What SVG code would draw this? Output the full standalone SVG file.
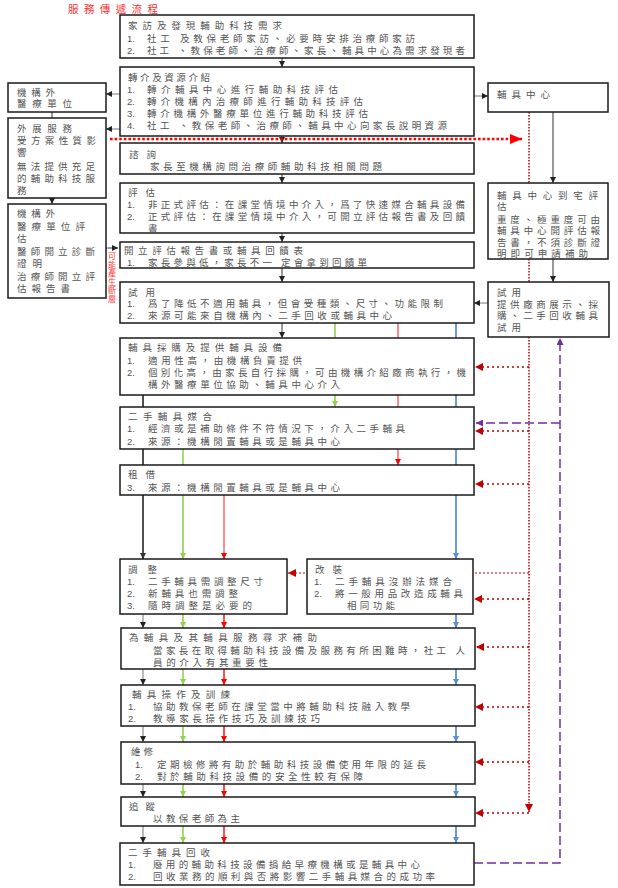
<svg xmlns="http://www.w3.org/2000/svg" width="618" height="888" viewBox="0 0 618 888">
<style>
.bx{fill:#fff;stroke:#1a1a1a;stroke-width:1.5}
text{font-family:"Liberation Sans","Noto Sans CJK TC","Noto Sans CJK SC",sans-serif;font-size:9.5px;fill:#555}
.ttl{fill:#ff3030;font-size:10.5px}
.vt{fill:#ff3a3a;font-size:8px}
.k{stroke:#333;stroke-width:1;fill:none}
.gy{stroke:#777;stroke-width:1;fill:none}
.g{stroke:#92D050;stroke-width:1.6;fill:none}
.r{stroke:#FF6F6F;stroke-width:1.6;fill:none}
.rr{stroke:#FF0000;stroke-width:1.4;fill:none}
.b{stroke:#5B8FD0;stroke-width:1.8;fill:none}
.bk{stroke:#222;stroke-width:1.6;fill:none}
.dr{stroke:#C00000;stroke-width:1.5;stroke-dasharray:1.5 1.5;fill:none}
.drh{stroke:#C00000;stroke-width:1.5;stroke-dasharray:2 3;fill:none}
.drt{stroke:#C00000;stroke-width:1;stroke-dasharray:2 2;fill:none}
.bigr{stroke:#FF0000;stroke-width:2.6;stroke-dasharray:2.6 2;fill:none}
.pu{stroke:#7030A0;stroke-width:1.5;stroke-dasharray:9 4;fill:none}
</style>
<defs>
<marker id="ak" markerUnits="userSpaceOnUse" markerWidth="6" markerHeight="6" refX="6" refY="3" orient="auto"><path d="M0,0L6,3L0,6z" fill="#222"/></marker>
<marker id="agy" markerUnits="userSpaceOnUse" markerWidth="6" markerHeight="6" refX="6" refY="3" orient="auto"><path d="M0,0L6,3L0,6z" fill="#333"/></marker>
<marker id="ag" markerUnits="userSpaceOnUse" markerWidth="6" markerHeight="6" refX="6" refY="3" orient="auto"><path d="M0,0L6,3L0,6z" fill="#92D050"/></marker>
<marker id="ar" markerUnits="userSpaceOnUse" markerWidth="6" markerHeight="6" refX="6" refY="3" orient="auto"><path d="M0,0L6,3L0,6z" fill="#FF0000"/></marker>
<marker id="ab" markerUnits="userSpaceOnUse" markerWidth="6" markerHeight="6" refX="6" refY="3" orient="auto"><path d="M0,0L6,3L0,6z" fill="#5B8FD0"/></marker>
<marker id="adr" markerUnits="userSpaceOnUse" markerWidth="8" markerHeight="8" refX="8" refY="4" orient="auto"><path d="M0,0L8,4L0,8z" fill="#C00000"/></marker>
<marker id="abig" markerUnits="userSpaceOnUse" markerWidth="12" markerHeight="10" refX="12" refY="5" orient="auto"><path d="M0,0L12,5L0,10z" fill="#FF0000"/></marker>
<marker id="apu" markerUnits="userSpaceOnUse" markerWidth="7" markerHeight="7" refX="7" refY="3.5" orient="auto"><path d="M0,0L7,3.5L0,7z" fill="#7030A0"/></marker>
</defs>
<rect width="618" height="888" fill="#fff"/>
<text class="ttl" x="68" y="13" textLength="90">服務傳遞流程</text>

<g id="connectors">
<line class="k" x1="282" y1="58" x2="282" y2="67" marker-end="url(#ak)"/>
<line class="k" x1="282" y1="136" x2="282" y2="143" marker-end="url(#ak)"/>
<line class="k" x1="282" y1="174" x2="282" y2="183" marker-end="url(#ak)"/>
<line class="k" x1="282" y1="233" x2="282" y2="242" marker-end="url(#ak)"/>
<line class="k" x1="282" y1="268" x2="282" y2="282" marker-end="url(#ak)"/>
<line class="k" x1="282" y1="323" x2="282" y2="338" marker-end="url(#ak)"/>
<line class="gy" x1="120" y1="94" x2="106" y2="94" marker-end="url(#ak)"/>
<line class="gy" x1="120" y1="129" x2="106" y2="129" marker-end="url(#ak)"/>
<line class="k" x1="52" y1="112" x2="52" y2="204" marker-end="url(#ak)"/>
<line class="k" x1="108" y1="248" x2="118" y2="248" marker-start="url(#ak)" marker-end="url(#ak)"/>
<line class="gy" x1="474" y1="96" x2="488" y2="96" marker-end="url(#ak)"/>
<line class="k" x1="553" y1="112" x2="553" y2="183" marker-end="url(#ak)"/>
<line class="k" x1="553" y1="259" x2="553" y2="282" marker-end="url(#ak)"/>
<line class="gy" x1="488" y1="303" x2="474" y2="303" marker-end="url(#ak)"/>
<line class="bigr" x1="110" y1="139" x2="522" y2="139" marker-end="url(#abig)"/>
<line class="dr" x1="529" y1="112" x2="529" y2="812" marker-end="url(#adr)"/>
<line class="drh" x1="529" y1="367" x2="475" y2="367" marker-end="url(#adr)"/>
<line class="drh" x1="529" y1="431" x2="475" y2="431" marker-end="url(#adr)"/>
<line class="drh" x1="529" y1="484" x2="475" y2="484" marker-end="url(#adr)"/>
<line class="drt" x1="529" y1="573" x2="288" y2="573" marker-end="url(#adr)"/>
<line class="drh" x1="529" y1="599" x2="474" y2="599" marker-end="url(#adr)"/>
<line class="drh" x1="529" y1="647" x2="476" y2="647" marker-end="url(#adr)"/>
<line class="drh" x1="529" y1="707" x2="475" y2="707" marker-end="url(#adr)"/>
<line class="drh" x1="529" y1="762" x2="475" y2="762" marker-end="url(#adr)"/>
<line class="drh" x1="529" y1="813" x2="475" y2="813" marker-end="url(#adr)"/>
<path class="pu" d="M474 863H560V338" marker-end="url(#apu)"/>
<path class="pu" d="M560 423H476" marker-end="url(#apu)"/>
<line class="g" x1="335" y1="323" x2="335" y2="407" marker-end="url(#ag)"/>
<line class="g" x1="183" y1="449" x2="183" y2="559" marker-end="url(#ag)"/>
<line class="r" x1="398" y1="323" x2="398" y2="465" marker-end="url(#ar)"/>
<line class="r" x1="224" y1="495" x2="224" y2="559" marker-end="url(#ar)"/>
<line class="b" x1="456" y1="323" x2="456" y2="559" marker-end="url(#ab)"/>
<line class="bk" x1="143" y1="395" x2="143" y2="559" marker-end="url(#agy)"/>
<g>
<line class="gy" x1="143" y1="614" x2="143" y2="628" marker-end="url(#ak)"/>
<line class="gy" x1="143" y1="669" x2="143" y2="685" marker-end="url(#ak)"/>
<line class="gy" x1="143" y1="726" x2="143" y2="742" marker-end="url(#ak)"/>
<line class="gy" x1="143" y1="784" x2="143" y2="797" marker-end="url(#ak)"/>
<line class="gy" x1="143" y1="826" x2="143" y2="843" marker-end="url(#ak)"/>
<line class="g" x1="183" y1="614" x2="183" y2="628" marker-end="url(#ag)"/>
<line class="g" x1="183" y1="669" x2="183" y2="685" marker-end="url(#ag)"/>
<line class="g" x1="183" y1="726" x2="183" y2="742" marker-end="url(#ag)"/>
<line class="g" x1="183" y1="784" x2="183" y2="797" marker-end="url(#ag)"/>
<line class="g" x1="183" y1="826" x2="183" y2="843" marker-end="url(#ag)"/>
<line class="rr" x1="224" y1="614" x2="224" y2="628" marker-end="url(#ar)"/>
<line class="rr" x1="224" y1="669" x2="224" y2="685" marker-end="url(#ar)"/>
<line class="rr" x1="224" y1="726" x2="224" y2="742" marker-end="url(#ar)"/>
<line class="rr" x1="224" y1="784" x2="224" y2="797" marker-end="url(#ar)"/>
<line class="rr" x1="224" y1="826" x2="224" y2="843" marker-end="url(#ar)"/>
<line class="b" x1="456" y1="614" x2="456" y2="628" marker-end="url(#ab)"/>
<line class="b" x1="456" y1="669" x2="456" y2="685" marker-end="url(#ab)"/>
<line class="b" x1="456" y1="726" x2="456" y2="742" marker-end="url(#ab)"/>
<line class="b" x1="456" y1="784" x2="456" y2="797" marker-end="url(#ab)"/>
<line class="b" x1="456" y1="826" x2="456" y2="843" marker-end="url(#ab)"/>
</g>
</g>

<g id="n1"><rect class="bx" x="120" y="15" width="354" height="43"/>
<text x="128" y="28.5" textLength="154">家訪及發現輔助科技需求</text>
<text x="127" y="41.5">1.</text><text x="147" y="41.5" textLength="268">社工 及教保老師家訪、必要時安排治療師家訪</text>
<text x="127" y="54">2.</text><text x="147" y="54" textLength="318">社工 、教保老師、治療師、家長、輔具中心為需求發現者</text></g>

<g id="n2"><rect class="bx" x="120" y="67" width="354" height="69"/>
<text x="128" y="81" textLength="82">轉介及資源介紹</text>
<text x="127" y="93">1.</text><text x="147" y="93" textLength="191">轉介輔具中心進行輔助科技評估</text>
<text x="127" y="105">2.</text><text x="147" y="105" textLength="216">轉介機構內治療師進行輔助科技評估</text>
<text x="127" y="117">3.</text><text x="147" y="117" textLength="221">轉介機構外醫療單位進行輔助科技評估</text>
<text x="127" y="129">4.</text><text x="147" y="129" textLength="300">社工 、教保老師、治療師、輔具中心向家長說明資源</text></g>

<g id="n3"><rect class="bx" x="120" y="143" width="354" height="31"/>
<text x="129" y="157.5" textLength="27">諮詢</text>
<text x="150" y="169.5" textLength="232">家長至機構詢問治療師輔助科技相關問題</text></g>

<g id="n4"><rect class="bx" x="120" y="183" width="354" height="50"/>
<text x="128" y="195.5" textLength="27">評估</text>
<text x="127" y="207.5">1.</text><text x="148" y="207.5" textLength="317">非正式評估：在課堂情境中介入，爲了快速媒合輔具設備</text>
<text x="127" y="220">2.</text><text x="148" y="220" textLength="317">正式評估：在課堂情境中介入，可開立評估報告書及回饋</text>
<text x="148" y="231.5">書</text></g>

<g id="n5"><rect class="bx" x="120" y="242" width="354" height="26"/>
<text x="124" y="253.5" textLength="179">開立評估報告書或輔具回饋表</text>
<text x="127" y="266">1.</text><text x="148" y="266" textLength="219">家長參與低，家長不一 定會拿到回饋單</text></g>

<g id="n6"><rect class="bx" x="120" y="282" width="354" height="41"/>
<text x="128" y="295.5" textLength="27">試用</text>
<text x="127" y="306.5">1.</text><text x="148" y="306.5" textLength="295">爲了降低不適用輔具，但會受種類、尺寸、功能限制</text>
<text x="127" y="318.5">2.</text><text x="148" y="318.5" textLength="244">來源可能來自機構內、二手回收或輔具中心</text></g>

<g id="n7"><rect class="bx" x="120" y="338" width="354" height="57"/>
<text x="128" y="350.5" textLength="154">輔具採購及提供輔具設備</text>
<text x="127" y="363.5">1.</text><text x="148" y="363.5" textLength="154">適用性高，由機構負責提供</text>
<text x="127" y="375.5">2.</text><text x="148" y="375.5" textLength="318">個別化高，由家長自行採購，可由機構介紹廠商執行，機</text>
<text x="148" y="387.5" textLength="192">構外醫療單位協助、輔具中心介入</text></g>

<g id="n8"><rect class="bx" x="120" y="407" width="354" height="42"/>
<text x="128" y="419.5" textLength="84">二手輔具媒合</text>
<text x="127" y="431.5">1.</text><text x="148" y="431.5" textLength="257">經濟或是補助條件不符情況下，介入二手輔具</text>
<text x="127" y="444.5">2.</text><text x="148" y="444.5" textLength="192">來源：機構閒置輔具或是輔具中心</text></g>

<g id="n9"><rect class="bx" x="120" y="465" width="354" height="30"/>
<text x="128" y="477.5" textLength="27">租借</text>
<text x="127" y="490.5">3.</text><text x="148" y="490.5" textLength="192">來源：機構閒置輔具或是輔具中心</text></g>

<g id="n10"><rect class="bx" x="120" y="559" width="167" height="55"/>
<text x="128" y="572.5" textLength="29">調整</text>
<text x="127" y="584.5">1.</text><text x="148" y="584.5" textLength="115">二手輔具需調整尺寸</text>
<text x="127" y="596.5">2.</text><text x="148" y="596.5" textLength="90">新輔具也需調整</text>
<text x="127" y="608.5">3.</text><text x="148" y="608.5" textLength="104">隨時調整是必要的</text></g>

<g id="n11"><rect class="bx" x="307" y="559" width="166" height="55"/>
<text x="315" y="572.5" textLength="27">改裝</text>
<text x="314" y="584.5">1.</text><text x="335" y="584.5" textLength="117">二手輔具沒辦法媒合</text>
<text x="314" y="596.5">2.</text><text x="335" y="596.5" textLength="128">將一般用品改造成輔具</text>
<text x="347" y="608.5" textLength="48">相同功能</text></g>

<g id="n12"><rect class="bx" x="121" y="628" width="354" height="41"/>
<text x="129" y="640.5" textLength="188">為輔具及其輔具服務尋求補助</text>
<text x="153" y="653.5" textLength="312">當家長在取得輔助科技設備及服務有所困難時，社工 人</text>
<text x="153" y="665.5" textLength="115">員的介入有其重要性</text></g>

<g id="n13"><rect class="bx" x="121" y="685" width="354" height="41"/>
<text x="132" y="697.5" textLength="98">輔具操作及訓練</text>
<text x="128" y="709.5">1.</text><text x="153" y="709.5" textLength="257">協助教保老師在課堂當中將輔助科技融入教學</text>
<text x="128" y="722">2.</text><text x="153" y="722" textLength="167">教導家長操作技巧及訓練技巧</text></g>

<g id="n14"><rect class="bx" x="121" y="742" width="354" height="42"/>
<text x="131" y="755" textLength="22">維修</text>
<text x="135" y="767.5">1.</text><text x="157" y="767.5" textLength="269">定期檢修將有助於輔助科技設備使用年限的延長</text>
<text x="135" y="779.5">2.</text><text x="157" y="779.5" textLength="206">對於輔助科技設備的安全性較有保障</text></g>

<g id="n15"><rect class="bx" x="121" y="797" width="354" height="29"/>
<text x="129" y="809.5" textLength="26">追蹤</text>
<text x="153" y="822" textLength="87">以教保老師為主</text></g>

<g id="n16"><rect class="bx" x="120" y="843" width="354" height="42"/>
<text x="128" y="855.5" textLength="82">二手輔具回收</text>
<text x="128" y="867.5">1.</text><text x="153" y="867.5" textLength="267">廢用的輔助科技設備捐給早療機構或是輔具中心</text>
<text x="128" y="880">2.</text><text x="153" y="880" textLength="282">回收業務的順利與否將影響二手輔具媒合的成功率</text></g>

<g id="l1"><rect class="bx" x="8" y="83" width="98" height="29"/>
<text x="17" y="95.5" textLength="38">機構外</text>
<text x="17" y="107" textLength="55">醫療單位</text></g>

<g id="l2"><rect class="bx" x="8" y="118" width="98" height="80"/>
<text x="17" y="131.5" textLength="55">外展服務</text>
<text x="17" y="143.5" textLength="79">受方案性質影</text>
<text x="17" y="155.5">響</text>
<text x="17" y="169.5" textLength="78">無法提供充足</text>
<text x="17" y="181.5" textLength="78">的輔助科技服</text>
<text x="17" y="193.5">務</text></g>

<g id="l3"><rect class="bx" x="8" y="204" width="98" height="94"/>
<text x="17" y="216.5" textLength="38">機構外</text>
<text x="17" y="229.5" textLength="68">醫療單位評</text>
<text x="17" y="241.5">估</text>
<text x="17" y="254.5" textLength="78">醫師開立診斷</text>
<text x="17" y="266.5" textLength="25">證明</text>
<text x="17" y="279.5" textLength="78">治療師開立評</text>
<text x="17" y="291.5" textLength="53">估報告書</text></g>

<g id="gap-label"><text class="vt" x="108" y="259"><tspan x="108" dy="0">可</tspan><tspan x="108" dy="8.5">能</tspan><tspan x="108" dy="8.5">產</tspan><tspan x="108" dy="8.5">生</tspan><tspan x="108" dy="8.5">斷</tspan><tspan x="108" dy="8.5">層</tspan></text></g>

<g id="r1"><rect class="bx" x="488" y="83" width="120" height="29"/>
<text x="497" y="97.5" textLength="53">輔具中心</text></g>

<g id="r2"><rect class="bx" x="488" y="183" width="120" height="76"/>
<text x="497" y="198.5" textLength="101">輔具中心到宅評</text>
<text x="497" y="210">估</text>
<text x="497" y="222.5" textLength="103">重度、極重度可由</text>
<text x="497" y="234" textLength="103">輔具中心開評估報</text>
<text x="497" y="245.5" textLength="103">告書，不須診斷證</text>
<text x="497" y="257" textLength="91">明即可申請補助</text></g>

<g id="r3"><rect class="bx" x="488" y="282" width="121" height="55"/>
<text x="497" y="295.5" textLength="24">試用</text>
<text x="497" y="307.5" textLength="101">提供廠商展示、採</text>
<text x="497" y="319" textLength="101">購、二手回收輔具</text>
<text x="497" y="330.5" textLength="24">試用</text></g>
</svg>
